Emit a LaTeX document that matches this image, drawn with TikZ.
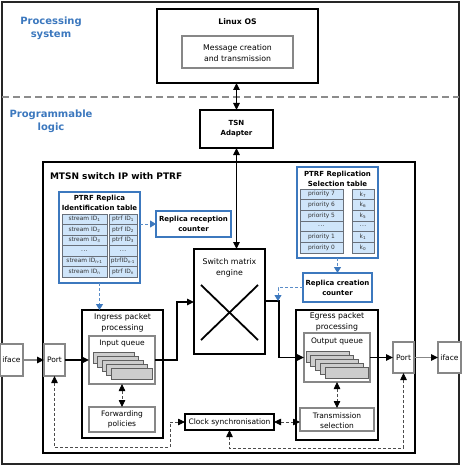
\documentclass[tikz,border=0pt]{standalone}
\usepackage{fontspec}
\setmainfont{DejaVu Sans}
\usetikzlibrary{arrows.meta}
\definecolor{myblue}{RGB}{60,120,190}
\definecolor{cellblue}{RGB}{207,229,250}
\definecolor{boxgray}{RGB}{135,135,135}
\definecolor{cellgray}{RGB}{105,112,122}
\definecolor{qfill}{RGB}{205,205,205}
\definecolor{qedge}{RGB}{95,95,95}
\newcommand\bx[6]{\node[#1, minimum width={#5-#3}, minimum height={#6-#4}] (#2) at ({(#3+#5)/2},{(#4+#6)/2}) {};}
\newcommand\celldots{.\kern0.5pt.\kern0.5pt.}
\newcommand\sid[1]{stream ID\textsubscript{#1}}
\newcommand\pid[1]{ptrf ID\textsubscript{#1}}
\newcommand\kk[1]{k\textsubscript{#1}}
\begin{document}
\begin{tikzpicture}[x=1pt,y=-1pt,
  every node/.style={inner sep=0pt, outer sep=0pt},
  thickbox/.style={draw, line width=2.3pt, fill=white},
  medbox/.style={draw, line width=1.6pt, fill=white},
  graybox/.style={draw=boxgray, line width=1.1pt, fill=white},
  bluebox/.style={draw=myblue, line width=1.4pt, fill=white},
  txt/.style={font=\fontsize{7.5}{10.5}\selectfont, align=center},
  bigtxt/.style={font=\fontsize{7.8}{11}\selectfont, align=center},
  btxt/.style={font=\fontsize{7}{9.8}\selectfont\bfseries, align=center},
  celltxt/.style={font=\fontsize{5.9}{7}\selectfont, text=black!80},
  region/.style={font=\fontsize{10}{13}\selectfont\bfseries, text=myblue, align=center},
  cellbox/.style={draw=cellgray, line width=0.6pt, fill=cellblue},
  colframe/.style={draw=cellgray, line width=1pt},
  onearrow/.style={-{Triangle[length=7pt,width=6.5pt,color=black]}},
  twoarrow/.style={{Triangle[length=7pt,width=6.5pt,color=black]}-{Triangle[length=7pt,width=6.5pt,color=black]}},
  flow/.style={line width=1.5pt},
  grayflow/.style={draw=boxgray, line width=1.3pt},
  clkline/.style={draw=black!70, line width=0.8pt, dash pattern=on 3pt off 2pt},
  blueline/.style={draw=myblue!85, line width=1pt, dash pattern=on 3pt off 2pt},
  bluetip/.style={-{Triangle[length=6pt,width=7pt,fill=myblue,color=myblue]}}
]
\useasboundingbox (0,0) rectangle (462,468);
% outer frame and separator
\draw[line width=1.5pt, black!85] (2,2) rectangle (459,464);
\draw[draw=black!45, line width=1.2pt, dash pattern=on 7pt off 4pt] (2,97) -- (459,97);
\node[region] (ps) at (51,28.5) {Processing\\system};
\node[region] (pl) at (51,121) {Programmable\\logic};

% Linux OS
\bx{thickbox}{linux}{157}{9}{318}{83}
\node[btxt, font=\fontsize{7.7}{9}\selectfont\bfseries] (linuxt) at (237.5,22) {Linux OS};
\bx{graybox}{msg}{182}{36}{293}{68}
\node[bigtxt] (msgt) at (237.5,53) {Message creation\\and transmission};

% TSN adapter
\bx{thickbox}{tsn}{200}{110}{273}{148}
\node[btxt] (tsnt) at (236.5,129) {TSN\\Adapter};

% MTSN switch box
\bx{thickbox}{mtsn}{43}{162}{415}{453}
\node[font=\fontsize{9}{11}\selectfont\bfseries, anchor=west] (mtsnt) at (50,176) {MTSN switch IP with PTRF};

% PTRF Replica Identification table
\bx{bluebox}{rit}{59}{192}{140}{283}
\node[btxt] (ritt) at (99.5,203) {PTRF Replica\\Identification table};
\foreach \t [count=\i from 0] in {\sid{1},\sid{2},\sid{3},\celldots,\sid{n-1},\sid{n}}{
  \draw[cellbox] (62,{214+10.5*\i}) rectangle (107,{224.5+10.5*\i});
  \node[celltxt] (sa\i) at (84.5,{219.25+10.5*\i}) {\t};
}
\draw[colframe] (62,214) rectangle (107,277);
\foreach \t [count=\i from 0] in {\pid{1},\pid{2},\pid{3},\celldots,ptrfID\textsubscript{n-1},\pid{n}}{
  \draw[cellbox] (109,{214+10.5*\i}) rectangle (137,{224.5+10.5*\i});
  \node[celltxt] (pa\i) at (123,{219.25+10.5*\i}) {\t};
}
\draw[colframe] (109,214) rectangle (137,277);

% Replica reception counter
\bx{bluebox}{rrc}{156}{211}{231}{237}
\node[btxt] (rrct) at (193.5,224) {Replica reception\\counter};

% PTRF Replication Selection table
\bx{bluebox}{rst}{297}{167}{378}{258}
\node[btxt] (rstt) at (337.5,179) {PTRF Replication\\Selection table};
\foreach \t [count=\i from 0] in {priority 7,priority 6,priority 5,\celldots,priority 1,priority 0}{
  \draw[cellbox] (300,{189+10.67*\i}) rectangle (343,{199.67+10.67*\i});
  \node[celltxt] (pr\i) at (321.5,{194.33+10.67*\i}) {\t};
}
\draw[colframe] (300,189) rectangle (343,253);
\foreach \t [count=\i from 0] in {\kk{7},\kk{6},\kk{5},\celldots,\kk{1},\kk{0}}{
  \draw[cellbox] (352,{189+10.67*\i}) rectangle (374,{199.67+10.67*\i});
  \node[celltxt] (kc\i) at (363,{194.33+10.67*\i}) {\t};
}
\draw[colframe] (352,189) rectangle (374,253);

% Replica creation counter
\bx{bluebox}{rcc}{303}{273}{372}{302}
\node[btxt] (rcct) at (337.5,287.5) {Replica creation\\counter};

% Switch matrix engine
\bx{medbox}{sw}{194}{249}{265}{354}
\node[bigtxt] (swt) at (229.5,267.5) {Switch matrix\\engine};
\draw[line width=1.8pt] (201,285) -- (258,340);
\draw[line width=1.8pt] (258,285) -- (201,340);

% Ingress
\bx{medbox}{ing}{82}{310}{163}{438}
\node[bigtxt] (ingt) at (122.5,322.5) {Ingress packet\\processing};
\bx{graybox}{inq}{89}{336}{155}{384}
\node[txt] (inqt) at (122,343.5) {Input queue};
\foreach \i in {0,1,2,3,4}{
  \draw[draw=qedge, fill=qfill, line width=0.7pt] ({93+4.5*\i},{352+4.2*\i}) rectangle ({134+4.5*\i},{363+4.2*\i});
}
\bx{graybox}{fwd}{89}{407}{155}{432}
\node[txt] (fwdt) at (122,419.5) {Forwarding\\policies};

% Egress
\bx{medbox}{egr}{296}{310}{378}{440}
\node[bigtxt] (egrt) at (337,321.5) {Egress packet\\processing};
\bx{graybox}{outq}{304}{333}{370}{382}
\node[txt] (outqt) at (337,341) {Output queue};
\foreach \i in {0,1,2,3,4}{
  \draw[draw=qedge, fill=qfill, line width=0.7pt] ({306+4.75*\i},{351+4*\i}) rectangle ({349+4.75*\i},{362+4*\i});
}
\bx{graybox}{txs}{300}{408}{374}{431}
\node[txt] (txst) at (337,420.5) {Transmission\\selection};

% Clock synchronisation
\bx{medbox}{clk}{185}{414}{274}{430}
\node[txt] (clkt) at (229.5,422.5) {Clock synchronisation};

% Ports and interfaces
\bx{graybox}{portL}{44}{344}{65}{376}
\node[txt] (portLt) at (54.5,360) {Port};
\bx{graybox}{ifL}{0}{344}{23}{376}
\node[txt] (ifLt) at (11.5,360) {iface};
\bx{graybox}{portR}{393}{342}{414}{373}
\node[txt] (portRt) at (403.5,357.5) {Port};
\bx{graybox}{ifR}{438}{342}{461}{373}
\node[txt] (ifRt) at (449.5,357.5) {iface};

% vertical connections
\draw[twoarrow, line width=1.2pt] (linux.south -| tsn.north) -- (tsn.north);
\coordinate (swin) at (tsn.south |- sw.north);
\draw[twoarrow, line width=1.2pt] (tsn.south) -- (swin);

% data path
\draw[grayflow, onearrow] (ifL.east) -- (portL.west);
\draw[flow, onearrow] (portL.east) -- (inq.west);
\coordinate (a1) at (177,360);
\coordinate (a2) at (177,302);
\draw[flow, onearrow] (inq.east |- a1) -- (a1) -- (a2) -- (sw.west |- a2);
\coordinate (b1) at (279,301);
\coordinate (b2) at (279,357.5);
\draw[flow, onearrow] (sw.east |- b1) -- (b1) -- (b2) -- (outq.west |- b2);
\draw[flow, onearrow] (outq.east |- portR.west) -- (portR.west);
\draw[grayflow, onearrow] (portR.east) -- (ifR.west);

% dashed internal links
\draw[clkline, twoarrow] (inq.south) -- (fwd.north);
\draw[clkline, twoarrow] (outq.south) -- (txs.north);
\draw[clkline, twoarrow] (clk.east) -- (txs.west |- clk.east);
\coordinate (c1) at (170,422);
\coordinate (c2) at (170,447);
\coordinate (c3) at (54.5,447);
\draw[clkline, twoarrow] (clk.west) -- (c1) -- (c2) -- (c3) -- (portL.south);
\coordinate (d1) at (229.5,448);
\coordinate (d2) at (403.5,448);
\draw[clkline, twoarrow] (clk.south) -- (d1) -- (d2) -- (portR.south);

% blue dashed links
\draw[blueline, bluetip] (rit.east |- rrc.west) -- (rrc.west);
\draw[blueline, bluetip] (rit.south) -- (rit.south |- ing.north);
\draw[blueline, bluetip] (rst.south) -- (rcc.north);
\coordinate (e1) at (278,287.5);
\coordinate (e2) at (278,301);
\draw[blueline, bluetip] (rcc.west) -- (e1) -- (e2);
\end{tikzpicture}
\end{document}
